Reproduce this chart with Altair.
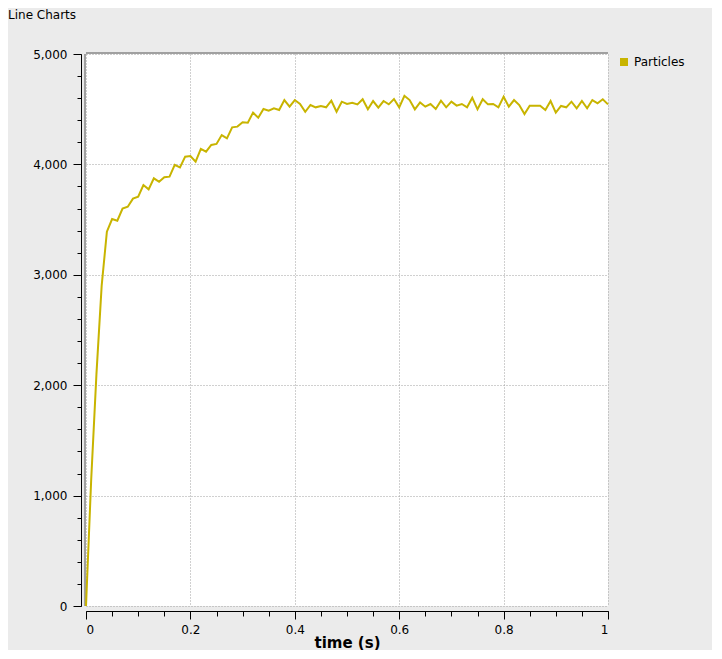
import altair as alt
import pandas as pd

# sample times (s) and particle counts
TIME = [
    0.00, 0.01, 0.02, 0.03, 0.04, 0.05, 0.06, 0.07, 0.08, 0.09,
    0.10, 0.11, 0.12, 0.13, 0.14, 0.15, 0.16, 0.17, 0.18, 0.19,
    0.20, 0.21, 0.22, 0.23, 0.24, 0.25, 0.26, 0.27, 0.28, 0.29,
    0.30, 0.31, 0.32, 0.33, 0.34, 0.35, 0.36, 0.37, 0.38, 0.39,
    0.40, 0.41, 0.42, 0.43, 0.44, 0.45, 0.46, 0.47, 0.48, 0.49,
    0.50, 0.51, 0.52, 0.53, 0.54, 0.55, 0.56, 0.57, 0.58, 0.59,
    0.60, 0.61, 0.62, 0.63, 0.64, 0.65, 0.66, 0.67, 0.68, 0.69,
    0.70, 0.71, 0.72, 0.73, 0.74, 0.75, 0.76, 0.77, 0.78, 0.79,
    0.80, 0.81, 0.82, 0.83, 0.84, 0.85, 0.86, 0.87, 0.88, 0.89,
    0.90, 0.91, 0.92, 0.93, 0.94, 0.95, 0.96, 0.97, 0.98, 0.99,
    1.00,
]
PARTICLES = [
    0, 1150, 2100, 2900, 3390, 3505, 3490, 3600, 3617, 3690,
    3707, 3813, 3774, 3874, 3843, 3883, 3889, 3995, 3972, 4070,
    4076, 4025, 4140, 4115, 4176, 4185, 4266, 4236, 4336, 4342,
    4381, 4378, 4469, 4423, 4502, 4487, 4508, 4493, 4583, 4523,
    4583, 4547, 4477, 4538, 4517, 4529, 4517, 4577, 4477, 4568,
    4547, 4559, 4544, 4590, 4499, 4574, 4514, 4574, 4544, 4592,
    4517, 4622, 4583, 4499, 4562, 4523, 4547, 4502, 4577, 4517,
    4568, 4532, 4547, 4517, 4604, 4499, 4590, 4544, 4547, 4517,
    4613, 4523, 4583, 4538, 4456, 4532, 4532, 4532, 4493, 4574,
    4469, 4529, 4517, 4568, 4508, 4574, 4508, 4583, 4553, 4590,
    4544,
]
SERIES = "Particles"

X_MAJOR = [0, 0.2, 0.4, 0.6, 0.8, 1]
X_MINOR = [0, 0.05, 0.1, 0.15, 0.2, 0.25, 0.3, 0.35, 0.4, 0.45, 0.5,
           0.55, 0.6, 0.65, 0.7, 0.75, 0.8, 0.85, 0.9, 0.95, 1]
Y_MAJOR = [0, 1000, 2000, 3000, 4000, 5000]
Y_MINOR = [0, 200, 400, 600, 800, 1000, 1200, 1400, 1600, 1800, 2000,
           2200, 2400, 2600, 2800, 3000, 3200, 3400, 3600, 3800, 4000,
           4200, 4400, 4600, 4800, 5000]

FONT = "DejaVu Sans"
LINE_COLOR = "#c8b400"
FRAME_GREY = "#a0a0a0"

data = pd.DataFrame({"time": TIME, "particles": PARTICLES, "series": SERIES})

x_scale = alt.Scale(domain=[X_MAJOR[0], X_MAJOR[-1]], nice=False, zero=False)
y_scale = alt.Scale(domain=[Y_MAJOR[0], Y_MAJOR[-1]], nice=False)

line = alt.Chart(data).mark_line(strokeWidth=2).encode(
    x=alt.X(
        "time:Q",
        scale=x_scale,
        axis=alt.Axis(orient="bottom", values=X_MAJOR, format="~g", tickSize=8,
                      offset=5, labelPadding=5, grid=True, title="time (s)",
                      titlePadding=0),
    ),
    y=alt.Y(
        "particles:Q",
        scale=y_scale,
        axis=alt.Axis(orient="left", values=Y_MAJOR, format=",d", tickSize=8,
                      offset=5, labelPadding=6, grid=True, title=None),
    ),
    color=alt.Color(
        "series:N",
        scale=alt.Scale(range=[LINE_COLOR]),
        legend=alt.Legend(title=None, orient="none", legendX=532, legendY=2,
                          symbolType="square", symbolSize=64, symbolStrokeWidth=0,
                          symbolFillColor=LINE_COLOR, labelOffset=4),
    ),
)

# thick grey frame at the top and left of the plot; they also carry the minor ticks
top_edge = alt.Chart(pd.DataFrame({"y": [Y_MAJOR[-1]]})).mark_rule(
    color=FRAME_GREY, strokeWidth=2, yOffset=-1
).encode(
    y=alt.Y("y:Q", scale=y_scale,
            axis=alt.Axis(orient="left", values=Y_MINOR, tickSize=4, offset=5,
                          labels=False, domain=False, grid=False, title=None)),
)
left_edge = alt.Chart(pd.DataFrame({"x": [X_MAJOR[0]]})).mark_rule(
    color=FRAME_GREY, strokeWidth=2, xOffset=-1
).encode(
    x=alt.X("x:Q", scale=x_scale,
            axis=alt.Axis(orient="bottom", values=X_MINOR, tickSize=5, offset=5,
                          labels=False, domain=False, grid=False, title=None)),
)

chart = (
    alt.layer(top_edge, left_edge, line)
    .resolve_axis(x="independent", y="independent")
    .properties(
        width=522,
        height=552,
        padding={"left": 78, "top": 46, "right": 104, "bottom": 44},
        autosize=alt.AutoSizeParams(type="none"),
        background="#ebebeb",
        title=alt.TitleParams("Line Charts", anchor="start", frame="group", dx=-78,
                              offset=17, baseline="alphabetic", font=FONT,
                              fontSize=12, fontWeight="normal", color="black"),
    )
    .configure_view(strokeWidth=0, fill="white")
    .configure_axis(
        labelFont=FONT, labelFontSize=12, labelColor="black",
        domainColor="black", tickColor="black",
        gridColor=FRAME_GREY, gridDash=[1, 2],
        titleFont=FONT, titleFontSize=15, titleFontWeight="bold", titleColor="black",
    )
    .configure_legend(labelFont=FONT, labelFontSize=12, labelColor="black")
)

chart.save("out.html", embed_options={"renderer": "svg", "actions": False})
